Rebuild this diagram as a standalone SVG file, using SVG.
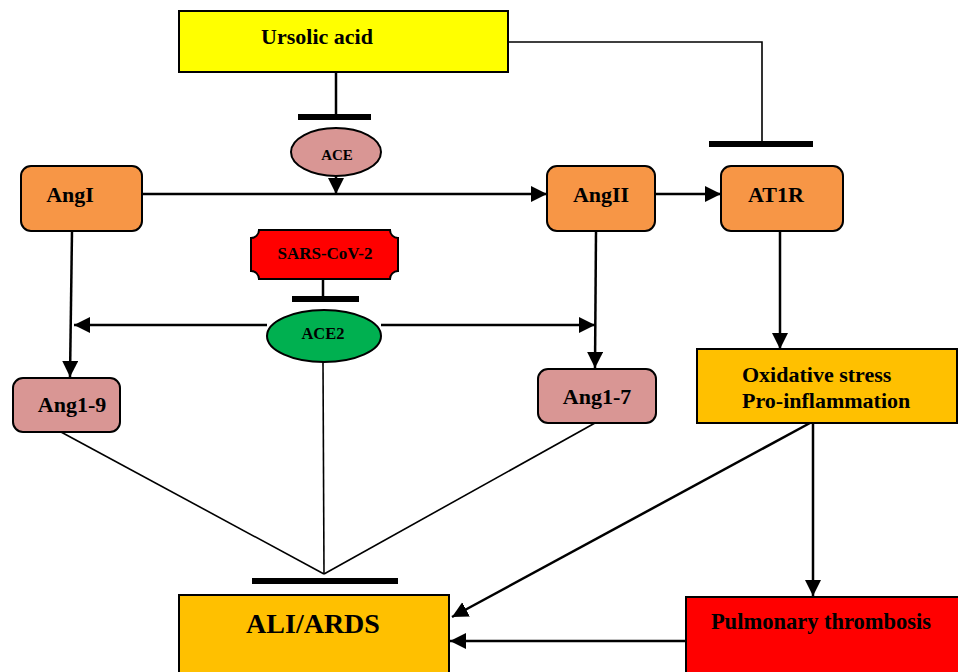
<svg xmlns="http://www.w3.org/2000/svg" width="958" height="672" viewBox="0 0 958 672">
<style>
.t{font-family:"Liberation Serif","Times New Roman",serif;font-weight:bold;fill:#000;text-anchor:middle}
.ts{text-anchor:start}
.box{stroke:#000;stroke-width:2}
.ln{fill:none;stroke:#000;stroke-width:2.5}
.thin{fill:none;stroke:#000;stroke-width:1.6}
.bar{stroke:#000;stroke-width:6}
</style>
<defs>
<marker id="ah" markerUnits="userSpaceOnUse" markerWidth="17" markerHeight="17" refX="16" refY="8" orient="auto">
<path d="M0,0 L16,8 L0,16 Z" fill="#000"/>
</marker>
</defs>
<rect width="958" height="672" fill="#fff"/>
<g id="connectors">
<path class="ln" d="M336,72 V117"/>
<line class="bar" x1="298" y1="117" x2="371" y2="117"/>
<path class="thin" d="M508,42 H762 V143" stroke-width="2"/>
<line class="bar" x1="709" y1="144" x2="813" y2="144"/>
<path class="ln" d="M336,176 V194" marker-end="url(#ah)"/>
<path class="ln" d="M143,194 H547" marker-end="url(#ah)"/>
<path class="ln" d="M655,194 H721" marker-end="url(#ah)"/>
<path class="ln" d="M72,231 L70,377" marker-end="url(#ah)"/>
<path class="ln" d="M596,231 L595,368" marker-end="url(#ah)"/>
<path class="ln" d="M323,279 V297"/>
<line class="bar" x1="292" y1="299" x2="359" y2="299"/>
<path class="ln" d="M267,325 H74" marker-end="url(#ah)"/>
<path class="ln" d="M381,325 H595" marker-end="url(#ah)"/>
<path class="ln" d="M780,231 V349" marker-end="url(#ah)"/>
<path class="thin" d="M61,432 L324,574"/>
<path class="thin" d="M323,362 L324,574"/>
<path class="thin" d="M595,423 L324,574"/>
<line class="bar" x1="252" y1="581" x2="398" y2="581"/>
<path class="ln" d="M810,423 L452,617" marker-end="url(#ah)"/>
<path class="ln" d="M813,423 V596" marker-end="url(#ah)"/>
<path class="ln" d="M686,641 H450" marker-end="url(#ah)"/>
</g>
<g id="ursolic">
<rect class="box" x="179" y="11" width="329" height="61" fill="#FFFF00" stroke-width="3"/>
<text class="t" x="317" y="44" font-size="22">Ursolic acid</text>
</g>
<g id="ace">
<ellipse class="box" cx="336" cy="152" rx="45" ry="24" fill="#D99694"/>
<text class="t" x="337" y="160" font-size="15">ACE</text>
</g>
<g id="angI">
<rect class="box" x="21" y="166" width="121" height="65" rx="10" fill="#F79646"/>
<text class="t" x="70" y="202" font-size="22">AngI</text>
</g>
<g id="angII">
<rect class="box" x="547" y="166" width="108" height="65" rx="10" fill="#F79646"/>
<text class="t" x="601" y="202" font-size="22">AngII</text>
</g>
<g id="at1r">
<rect class="box" x="721" y="166" width="122" height="65" rx="10" fill="#F79646"/>
<text class="t" x="776" y="202" font-size="22">AT1R</text>
</g>
<g id="sars">
<path class="box" fill="#FF0000" d="M259,230 L390,230 A8,8 0 0 0 398,238 L398,271 A8,8 0 0 0 390,279 L259,279 A8,8 0 0 0 251,271 L251,238 A8,8 0 0 0 259,230 Z"/>
<text class="t" x="325" y="259" font-size="17">SARS-CoV-2</text>
</g>
<g id="ace2">
<ellipse class="box" cx="324" cy="336" rx="57" ry="26" fill="#00B050"/>
<text class="t" x="323" y="339" font-size="16.5">ACE2</text>
</g>
<g id="ang19">
<rect class="box" x="13" y="378" width="107" height="54" rx="10" fill="#D99694"/>
<text class="t" x="72" y="412" font-size="22">Ang1-9</text>
</g>
<g id="ang17">
<rect class="box" x="538" y="369" width="118" height="54" rx="10" fill="#D99694"/>
<text class="t" x="597" y="404" font-size="22">Ang1-7</text>
</g>
<g id="oxidative">
<rect class="box" x="697" y="349" width="260" height="74" fill="#FFC000"/>
<text class="t ts" x="742" y="382" font-size="22">Oxidative stress</text>
<text class="t ts" x="742" y="408" font-size="22">Pro-inflammation</text>
</g>
<g id="ali">
<rect class="box" x="179" y="595" width="270" height="82" fill="#FFC000"/>
<text class="t" x="313" y="633" font-size="28">ALI/ARDS</text>
</g>
<g id="thrombosis">
<rect class="box" x="686" y="597" width="276" height="80" fill="#FF0000"/>
<text class="t" x="821" y="629" font-size="22.5">Pulmonary thrombosis</text>
</g>
</svg>
